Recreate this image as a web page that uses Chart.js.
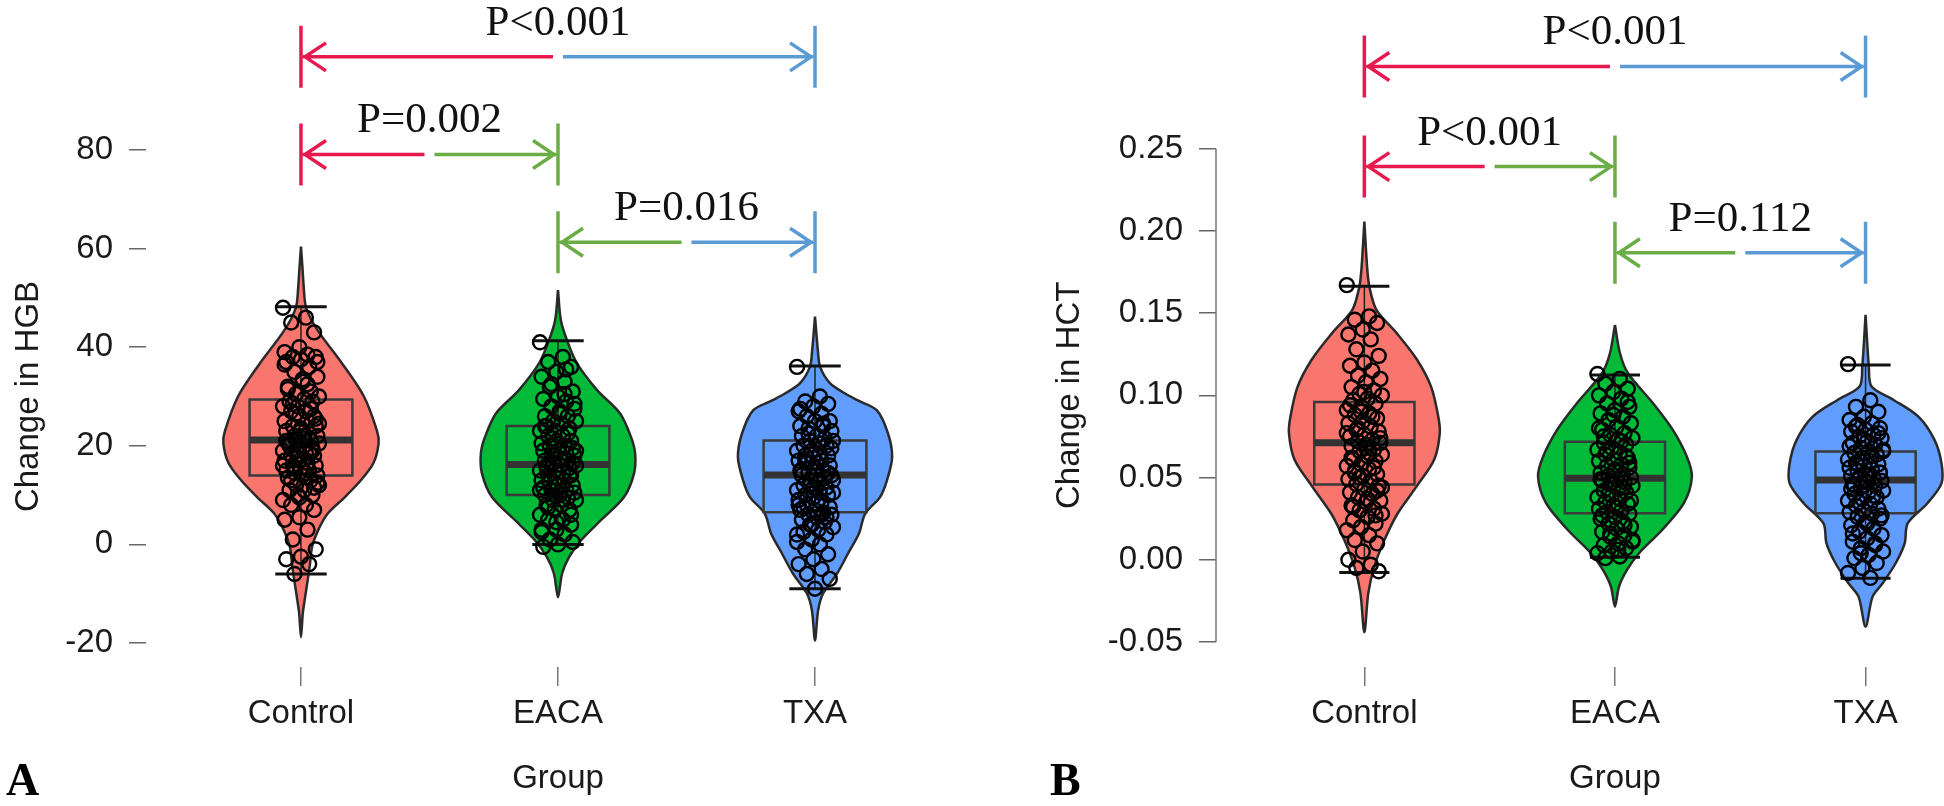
<!DOCTYPE html>
<html>
<head>
<meta charset="utf-8">
<script src="https://cdn.jsdelivr.net/npm/chart.js@4.4.1/dist/chart.umd.min.js"></script>
<style>
html, body { margin: 0; padding: 0; background: #fff; }
#wrap { position: relative; width: 1944px; height: 806px; }
canvas { position: absolute; top: 0; }
</style>
</head>
<body>
<div id="wrap">
  <canvas id="chartA" width="972" height="806" style="left:0"></canvas>
  <canvas id="chartB" width="972" height="806" style="left:972px"></canvas>
</div>
<script>
// Groups and colours
const groups = ['Control', 'EACA', 'TXA'];
const groupFill = ['#F8766D', '#00BA38', '#619CFF'];
const arrowColor = ['#E8194F', '#6AAD45', '#5B9BD5'];

// Panel A: change in HGB
const hgbTicks = [-20, 0, 20, 40, 60, 80];
const hgbTickLabels = ['-20', '0', '20', '40', '60', '80'];
const hgbQ1 = [14, 10, 6.5];
const hgbMedian = [21.2, 16.2, 14.1];
const hgbQ3 = [29.4, 24, 21.1];
const hgbLow = [-6, 0, -9];
const hgbHigh = [48.2, 41.3, 36.2];
// violin profiles: [value, half width], top to bottom
const hgbViolinControl = [[60.4, 0], [56, 0.006], [52, 0.011], [48, 0.02], [43.4, 0.065], [36.7, 0.16], [30, 0.245], [23, 0.296], [20.5, 0.302], [16.5, 0.282], [13, 0.233], [9.6, 0.171], [6.3, 0.105], [2.8, 0.066], [-0.5, 0.043], [-4, 0.035], [-7.3, 0.026], [-10.7, 0.016], [-14, 0.007], [-18.8, 0]];
const hgbViolinEACA = [[51.6, 0], [45.5, 0.011], [41.4, 0.035], [36.7, 0.074], [31.3, 0.152], [26.6, 0.241], [21.8, 0.284], [18.5, 0.3], [14.4, 0.296], [9.6, 0.257], [4.9, 0.167], [0.8, 0.089], [-2.6, 0.043], [-5.9, 0.016], [-10.7, 0]];
const hgbViolinTXA = [[46.2, 0], [39.4, 0.011], [36, 0.02], [32.7, 0.058], [30.6, 0.117], [29.2, 0.167], [27.2, 0.241], [22.5, 0.284], [17.7, 0.3], [13, 0.28], [9.6, 0.253], [6.2, 0.195], [2.2, 0.171], [-1.9, 0.128], [-5.9, 0.086], [-10, 0.031], [-13.4, 0.012], [-19.5, 0]];
const hgbPointsControl = [48, 46, 45, 43, 40, 39, 38.5, 38, 38, 37.5, 37, 36, 35, 34, 33, 32, 31, 30.5, 30, 29.5, 29, 29, 28, 28, 27, 27, 26, 26, 25, 25, 24, 24, 23.5, 23, 22.5, 22, 22, 21.5, 21, 21, 21, 20.5, 20, 20, 19.5, 19, 19, 18.5, 18, 18, 17, 17, 16.5, 16, 16, 15.5, 15, 15, 14.5, 14, 14, 13.5, 13, 12, 12, 11, 11, 10, 10, 9, 8, 8, 7, 5.5, 5, 3, 1, -1, -2.5, -3, -4, -6,
  37, 33.5, 31.5, 27.5, 26.5, 24.5, 22, 20.5, 19, 17.5, 16, 14.5, 13, 11.5, 9.5, 36.5, 32.5, 28.5, 25.5, 23, 21, 18.5, 15.5, 12.5];
const hgbPointsEACA = [41, 38, 37, 36, 35, 34, 33, 32, 31, 30, 29.5, 29, 28, 27.5, 27, 26, 26, 25, 25, 24.5, 24, 23.5, 23, 23, 22, 22, 21, 21, 20.5, 20, 20, 19.5, 19, 19, 18.5, 18, 18, 17.5, 17, 17, 16.5, 16, 16, 16, 15.5, 15, 15, 14.5, 14, 14, 13.5, 13, 13, 12.5, 12, 12, 11.5, 11, 11, 10.5, 10, 10, 9.5, 9, 9, 8, 8, 7, 7, 6, 5, 5, 4, 3, 3, 2, 1, 0.5, 0, -0.5,
  35.5, 32.5, 28.5, 26.5, 24, 22.5, 21.5, 19, 17, 15.5, 14, 12.5, 11, 9, 7.5, 6, 4.5, 2.5, 30.5, 20, 16.5, 13.5];
const hgbPointsTXA = [36, 30, 29, 28.5, 28, 27, 26.5, 26, 25, 25, 24, 24, 23.5, 23, 22, 22, 21.5, 21, 21, 20.5, 20, 20, 19, 19, 18.5, 18, 18, 17.5, 17, 17, 16.5, 16, 15.5, 15, 15, 14.5, 14, 14, 14, 13.5, 13, 13, 12.5, 12, 11.5, 11, 11, 10.5, 10, 10, 9.5, 9, 8.5, 8, 7.5, 7, 7, 6.5, 6, 6, 5.5, 5, 4.5, 4, 3.5, 3, 2.5, 2, 1, 0.5, 0, -1, -2, -3, -4, -5, -6, -7, -9,
  27.5, 24.5, 22.5, 19.5, 16.5, 15, 13.5, 12, 10.5, 9, 7.5, 5.5, 4, 2, 20.5, 17, 14.5, 11.5, 8, 6];
const hgbPairs = [[1, 3], [1, 2], [2, 3]];
const hgbPValues = ['P<0.001', 'P=0.002', 'P=0.016'];
const hgbBracketAt = [98.9, 79.1, 61.3];

// Panel B: change in HCT
const hctTicks = [-0.05, 0.00, 0.05, 0.10, 0.15, 0.20, 0.25];
const hctTickLabels = ['-0.05', '0.00', '0.05', '0.10', '0.15', '0.20', '0.25'];
const hctQ1 = [0.0458, 0.0283, 0.0283];
const hctMedian = [0.0712, 0.0496, 0.0485];
const hctQ3 = [0.0960, 0.0718, 0.0658];
const hctLow = [-0.0078, 0.0015, -0.0113];
const hctHigh = [0.1664, 0.1124, 0.1185];
const hctViolinControl = [[0.2057, 0], [0.178, 0.011], [0.166, 0.02], [0.152, 0.048], [0.138, 0.128], [0.1215, 0.211], [0.105, 0.267], [0.087, 0.295], [0.077, 0.301], [0.061, 0.279], [0.0445, 0.208], [0.028, 0.132], [0.012, 0.08], [-0.004, 0.04], [-0.020, 0.016], [-0.044, 0]];
const hctViolinEACA = [[0.1428, 0], [0.1256, 0.02], [0.1134, 0.052], [0.0952, 0.152], [0.079, 0.231], [0.0627, 0.287], [0.0505, 0.307], [0.0344, 0.275], [0.0181, 0.188], [0.004, 0.096], [-0.0062, 0.048], [-0.0164, 0.016], [-0.0285, 0]];
const hctViolinTXA = [[0.1489, 0], [0.1175, 0.013], [0.1053, 0.024], [0.0972, 0.112], [0.087, 0.211], [0.0729, 0.275], [0.0587, 0.303], [0.0465, 0.303], [0.0344, 0.247], [0.0222, 0.168], [0.010, 0.156], [-0.0021, 0.12], [-0.0143, 0.068], [-0.0224, 0.028], [-0.0407, 0]];
const hctPointsControl = [0.167, 0.148, 0.146, 0.144, 0.140, 0.137, 0.134, 0.128, 0.124, 0.120, 0.118, 0.115, 0.112, 0.110, 0.108, 0.105, 0.103, 0.101, 0.100, 0.098, 0.097, 0.095, 0.093, 0.091, 0.089, 0.088, 0.086, 0.084, 0.083, 0.081, 0.079, 0.078, 0.076, 0.075, 0.073, 0.072, 0.071, 0.070, 0.069, 0.067, 0.066, 0.064, 0.063, 0.061, 0.060, 0.058, 0.057, 0.055, 0.054, 0.052, 0.051, 0.049, 0.048, 0.046, 0.045, 0.043, 0.041, 0.040, 0.038, 0.036, 0.035, 0.033, 0.031, 0.030, 0.028, 0.026, 0.024, 0.022, 0.020, 0.018, 0.015, 0.012, 0.010, 0.005, 0.000, -0.003, -0.005, -0.007,
  0.102, 0.094, 0.087, 0.080, 0.074, 0.068, 0.062, 0.056, 0.050, 0.044, 0.037, 0.032, 0.027, 0.090, 0.077, 0.065, 0.053, 0.042];
const hctPointsEACA = [0.113, 0.110, 0.107, 0.104, 0.102, 0.100, 0.098, 0.095, 0.093, 0.091, 0.089, 0.087, 0.085, 0.083, 0.081, 0.079, 0.077, 0.076, 0.074, 0.073, 0.071, 0.070, 0.068, 0.067, 0.065, 0.064, 0.062, 0.061, 0.060, 0.058, 0.057, 0.056, 0.054, 0.053, 0.052, 0.051, 0.050, 0.049, 0.048, 0.047, 0.046, 0.045, 0.043, 0.042, 0.041, 0.039, 0.038, 0.037, 0.035, 0.034, 0.033, 0.031, 0.030, 0.029, 0.028, 0.026, 0.025, 0.023, 0.022, 0.020, 0.019, 0.017, 0.015, 0.014, 0.012, 0.010, 0.009, 0.007, 0.005, 0.004, 0.002, 0.001,
  0.096, 0.088, 0.080, 0.072, 0.066, 0.059, 0.055, 0.049, 0.044, 0.040, 0.036, 0.032, 0.027, 0.021, 0.016, 0.011, 0.006, 0.075, 0.063, 0.047];
const hctPointsTXA = [0.119, 0.097, 0.093, 0.090, 0.087, 0.085, 0.083, 0.082, 0.080, 0.079, 0.078, 0.076, 0.075, 0.074, 0.072, 0.071, 0.070, 0.068, 0.067, 0.066, 0.065, 0.064, 0.062, 0.061, 0.060, 0.059, 0.058, 0.057, 0.056, 0.055, 0.054, 0.053, 0.052, 0.051, 0.050, 0.049, 0.048, 0.047, 0.046, 0.045, 0.044, 0.042, 0.041, 0.040, 0.038, 0.037, 0.036, 0.034, 0.033, 0.031, 0.030, 0.029, 0.028, 0.026, 0.025, 0.023, 0.021, 0.019, 0.017, 0.015, 0.013, 0.011, 0.009, 0.007, 0.005, 0.003, 0.001, -0.002, -0.005, -0.008, -0.011,
  0.081, 0.077, 0.073, 0.069, 0.063, 0.058, 0.053, 0.048, 0.043, 0.039, 0.035, 0.027, 0.022, 0.016, 0.010, 0.004, 0.066, 0.051, 0.045];
const hctPairs = [[1, 3], [1, 2], [2, 3]];
const hctPValues = ['P<0.001', 'P<0.001', 'P=0.112'];
const hctBracketAt = [0.300, 0.2391, 0.1867];

Chart.defaults.font.family = '"Liberation Sans", Arial, sans-serif';

// horizontal spread of the strip points (position only)
function jitter(k) {
  return (((k * 37) % 23) / 22 - 0.5) * 0.14;
}

function decorPlugin(cfg) {
  const last = cfg.ticks.length - 1;
  return {
    id: 'decor',
    afterDatasetsDraw(chart) {
      const ctx = chart.ctx;
      const x = chart.scales.x, y = chart.scales.y;
      ctx.save();

      if (cfg.axisLine) {
        ctx.strokeStyle = '#777';
        ctx.lineWidth = 1.5;
        ctx.beginPath();
        ctx.moveTo(chart.chartArea.left, y.getPixelForValue(cfg.ticks[0]));
        ctx.lineTo(chart.chartArea.left, y.getPixelForValue(cfg.ticks[last]));
        ctx.stroke();
      }

      // significance brackets
      cfg.pairs.forEach((pair, k) => {
        const x1 = x.getPixelForValue(pair[0]);
        const x2 = x.getPixelForValue(pair[1]);
        const yy = y.getPixelForValue(cfg.bracketAt[k]);
        const mid = (x1 + x2) / 2;
        ctx.lineWidth = 3.5;
        ctx.lineCap = 'butt';
        ctx.lineJoin = 'miter';

        ctx.strokeStyle = arrowColor[pair[0] - 1];
        ctx.beginPath();
        ctx.moveTo(x1, yy - 31); ctx.lineTo(x1, yy + 31);
        ctx.moveTo(x1 + 2, yy); ctx.lineTo(mid - 5, yy);
        ctx.moveTo(x1 + 25, yy - 14); ctx.lineTo(x1 + 4, yy); ctx.lineTo(x1 + 25, yy + 14);
        ctx.stroke();

        ctx.strokeStyle = arrowColor[pair[1] - 1];
        ctx.beginPath();
        ctx.moveTo(x2, yy - 31); ctx.lineTo(x2, yy + 31);
        ctx.moveTo(mid + 5, yy); ctx.lineTo(x2 - 2, yy);
        ctx.moveTo(x2 - 25, yy - 14); ctx.lineTo(x2 - 4, yy); ctx.lineTo(x2 - 25, yy + 14);
        ctx.stroke();

        ctx.fillStyle = '#111';
        ctx.font = '43px "Liberation Serif", "Times New Roman", serif';
        ctx.textAlign = 'center';
        ctx.textBaseline = 'alphabetic';
        ctx.fillText(cfg.pValues[k], mid, yy - 22);
      });

      // axis titles
      ctx.fillStyle = '#1a1a1a';
      ctx.font = '33px "Liberation Sans", Arial, sans-serif';
      ctx.textAlign = 'center';
      ctx.textBaseline = 'middle';
      ctx.fillText('Group', x.getPixelForValue(2), 779);
      const yMid = (y.getPixelForValue(cfg.ticks[0]) + y.getPixelForValue(cfg.ticks[last])) / 2;
      ctx.save();
      ctx.translate(cfg.yTitleX, yMid);
      ctx.rotate(-Math.PI / 2);
      ctx.fillText(cfg.yTitle, 0, 0);
      ctx.restore();

      // panel letter
      ctx.fillStyle = '#000';
      ctx.font = 'bold 46px "Liberation Serif", "Times New Roman", serif';
      ctx.textAlign = 'left';
      ctx.textBaseline = 'alphabetic';
      ctx.fillText(cfg.letter, cfg.letterX, 795);
      ctx.restore();
    }
  };
}

function buildPanel(id, cfg) {
  const datasets = [];
  const bw = 0.2;   // half box width
  const cw = 0.1;   // half crossbar width
  groups.forEach((g, i) => {
    const c = i + 1;
    const prof = cfg.violins[i];
    const outline = prof.map(p => ({x: c + p[1], y: p[0]}))
      .concat(prof.slice(0, -1).reverse().map(p => ({x: c - p[1], y: p[0]})));
    datasets.push({
      label: g + ' violin', data: outline, fill: 'shape',
      backgroundColor: groupFill[i], borderColor: '#2a2a2a', borderWidth: 2.5,
      tension: 0.3, pointRadius: 0, order: 6
    });
    datasets.push({
      label: g + ' box',
      data: [{x: c - bw, y: cfg.q1[i]}, {x: c + bw, y: cfg.q1[i]}, {x: c + bw, y: cfg.q3[i]}, {x: c - bw, y: cfg.q3[i]}, {x: c - bw, y: cfg.q1[i]}],
      borderColor: '#3a3a3a', borderWidth: 2.5, borderCapStyle: 'square', borderJoinStyle: 'miter',
      fill: false, pointRadius: 0, tension: 0, order: 5
    });
    datasets.push({
      label: g + ' median',
      data: [{x: c - bw, y: cfg.median[i]}, {x: c + bw, y: cfg.median[i]}],
      borderColor: '#333', borderWidth: 7, fill: false, pointRadius: 0, order: 4
    });
    datasets.push({
      label: g + ' whiskers',
      data: [{x: c, y: cfg.q3[i]}, {x: c, y: cfg.high[i]}, {x: c, y: null}, {x: c, y: cfg.q1[i]}, {x: c, y: cfg.low[i]}],
      borderColor: '#222', borderWidth: 1.5, fill: false, pointRadius: 0, spanGaps: false, order: 3
    });
    datasets.push({
      label: g + ' range',
      data: [{x: c - cw, y: cfg.high[i]}, {x: c + cw, y: cfg.high[i]}, {x: c, y: null}, {x: c - cw, y: cfg.low[i]}, {x: c + cw, y: cfg.low[i]}],
      borderColor: '#111', borderWidth: 3, fill: false, pointRadius: 0, spanGaps: false, order: 2
    });
    datasets.push({
      label: g + ' points',
      data: cfg.points[i].map((v, k) => ({x: c + jitter(k), y: v})),
      showLine: false, pointStyle: 'circle', pointRadius: 7, pointBorderWidth: 2.4,
      pointBorderColor: '#000', pointBackgroundColor: 'rgba(0,0,0,0)', order: 1
    });
  });

  return new Chart(document.getElementById(id), {
    type: 'line',
    data: { datasets: datasets },
    options: {
      responsive: false,
      animation: false,
      events: [],
      layout: { autoPadding: false, padding: { left: 0, top: 0, bottom: 0, right: cfg.padRight } },
      plugins: { legend: { display: false }, tooltip: { enabled: false } },
      scales: {
        x: {
          type: 'linear', min: cfg.xMin, max: cfg.xMax,
          afterBuildTicks: ax => { ax.ticks = groups.map((g, i) => ({value: i + 1})); },
          afterFit: sc => { sc.height = 139; sc.paddingLeft = 0; sc.paddingRight = 0; },
          border: { display: false },
          grid: { drawOnChartArea: false, tickLength: 19, color: '#777', tickColor: '#777', lineWidth: 1.5 },
          ticks: { padding: 8, maxRotation: 0, autoSkip: false, color: '#1a1a1a', font: { size: 33 },
            callback: (v, i) => groups[i] }
        },
        y: {
          type: 'linear', min: cfg.yMin, max: cfg.yMax,
          afterBuildTicks: ax => { ax.ticks = cfg.ticks.map(v => ({value: v})); },
          afterFit: sc => { sc.width = cfg.axisWidth; sc.paddingTop = 0; sc.paddingBottom = 0; },
          border: { display: false },
          grid: { drawOnChartArea: false, tickLength: 17, color: '#666', tickColor: '#666', lineWidth: 1.5 },
          ticks: { padding: 16, autoSkip: false, color: '#1a1a1a', font: { size: 33 },
            callback: (v, i) => cfg.tickLabels[i] }
        }
      }
    },
    plugins: [decorPlugin(cfg)]
  });
}

buildPanel('chartA', {
  violins: [hgbViolinControl, hgbViolinEACA, hgbViolinTXA],
  points: [hgbPointsControl, hgbPointsEACA, hgbPointsTXA],
  q1: hgbQ1, median: hgbMedian, q3: hgbQ3, low: hgbLow, high: hgbHigh,
  ticks: hgbTicks, tickLabels: hgbTickLabels,
  pairs: hgbPairs, pValues: hgbPValues, bracketAt: hgbBracketAt,
  yMin: -24.87, yMax: 110.43, xMin: 0.397, xMax: 3.533,
  axisWidth: 146, padRight: 20, axisLine: false,
  yTitle: 'Change in HGB', yTitleX: 29, letter: 'A', letterX: 6
});

buildPanel('chartB', {
  violins: [hctViolinControl, hctViolinEACA, hctViolinTXA],
  points: [hctPointsControl, hctPointsEACA, hctPointsTXA],
  q1: hctQ1, median: hctMedian, q3: hctQ3, low: hctLow, high: hctHigh,
  ticks: hctTicks, tickLabels: hctTickLabels,
  pairs: hctPairs, pValues: hctPValues, bracketAt: hctBracketAt,
  yMin: -0.0652, yMax: 0.3404, xMin: 0.408, xMax: 3.313,
  axisWidth: 244, padRight: 0, axisLine: true,
  yTitle: 'Change in HCT', yTitleX: 98, letter: 'B', letterX: 78
});
</script>
</body>
</html>
